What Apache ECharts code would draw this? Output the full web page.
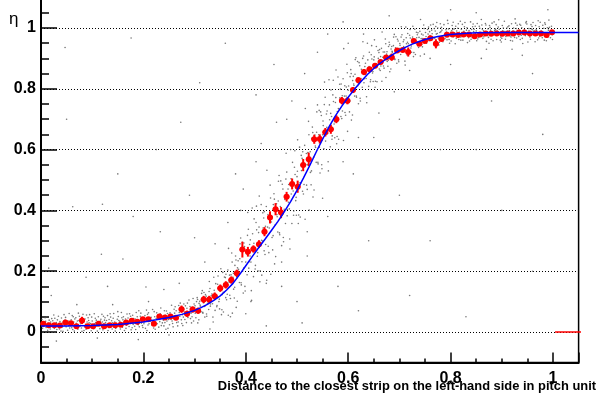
<!DOCTYPE html>
<html><head><meta charset="utf-8">
<script src="https://cdn.jsdelivr.net/npm/echarts@6/dist/echarts.min.js"></script>
<style>html,body{margin:0;padding:0;background:#fff}#c{width:600px;height:409px}</style>
</head><body><div id="c"></div>
<script>
// Profile (red points): bin centres, efficiency, error
const binX = [0.0045,0.0153,0.0261,0.0369,0.0477,0.0585,0.0693,0.0801,0.0909,0.1017,0.1125,0.1233,0.1341,0.1449,0.1557,0.1665,0.1773,0.1881,0.1989,0.2097,0.2205,0.2313,0.2421,0.2529,0.2637,0.2745,0.2853,0.2961,0.3069,0.3177,0.3285,0.3393,0.3501,0.3609,0.3717,0.3825,0.3933,0.4041,0.4149,0.4257,0.4365,0.4473,0.4581,0.4689,0.4797,0.4905,0.5013,0.5121,0.5229,0.5337,0.5445,0.5553,0.5661,0.5769,0.5877,0.5985,0.6093,0.6201,0.6309,0.6417,0.6525,0.6633,0.6741,0.6849,0.6957,0.7065,0.7173,0.7281,0.7389,0.7497,0.7605,0.7713,0.7821,0.7929,0.8037,0.8145,0.8253,0.8361,0.8469,0.8577,0.8685,0.8793,0.8901,0.9009,0.9117,0.9225,0.9333,0.9441,0.9549,0.9657,0.9765,0.9873,0.9981];
const effY = [0.027,0.022,0.022,0.021,0.031,0.029,0.019,0.038,0.019,0.019,0.027,0.019,0.022,0.022,0.024,0.031,0.037,0.034,0.042,0.042,0.027,0.051,0.048,0.051,0.047,0.075,0.060,0.074,0.070,0.107,0.107,0.118,0.144,0.155,0.171,0.193,0.271,0.264,0.273,0.289,0.330,0.377,0.404,0.393,0.445,0.487,0.478,0.549,0.568,0.634,0.635,0.657,0.667,0.700,0.761,0.761,0.796,0.828,0.855,0.864,0.876,0.888,0.903,0.904,0.926,0.928,0.921,0.957,0.948,0.957,0.966,0.948,0.964,0.978,0.979,0.977,0.979,0.979,0.973,0.979,0.982,0.981,0.982,0.981,0.982,0.982,0.985,0.985,0.982,0.982,0.982,0.977,0.986];
const effErr = [0.007,0.007,0.007,0.007,0.007,0.007,0.007,0.012,0.007,0.007,0.007,0.007,0.007,0.007,0.007,0.007,0.007,0.007,0.007,0.007,0.007,0.007,0.007,0.007,0.007,0.012,0.010,0.010,0.010,0.012,0.012,0.012,0.012,0.012,0.012,0.012,0.026,0.016,0.012,0.013,0.015,0.020,0.020,0.018,0.016,0.018,0.020,0.020,0.022,0.015,0.015,0.014,0.015,0.013,0.012,0.012,0.010,0.010,0.010,0.008,0.008,0.008,0.008,0.012,0.007,0.007,0.015,0.006,0.006,0.006,0.006,0.015,0.005,0.005,0.005,0.005,0.005,0.005,0.005,0.005,0.005,0.005,0.005,0.005,0.005,0.005,0.005,0.005,0.005,0.005,0.005,0.008,0.005];
const halfBin = 0.0054;
// Fit curve (blue)
const fitX = [0,0.05,0.10,0.15,0.20,0.225,0.25,0.275,0.30,0.3125,0.325,0.3375,0.35,0.3625,0.375,0.3875,0.40,0.4125,0.425,0.4375,0.45,0.4625,0.475,0.4875,0.50,0.5125,0.525,0.5375,0.55,0.5625,0.575,0.5875,0.60,0.6125,0.625,0.6375,0.65,0.6625,0.675,0.6875,0.70,0.7125,0.725,0.7375,0.75,0.775,0.80,0.825,0.85,0.90,1.05];
const fitY = [0.020,0.020,0.021,0.025,0.033,0.040,0.048,0.058,0.071,0.080,0.091,0.104,0.119,0.138,0.160,0.188,0.218,0.248,0.277,0.305,0.334,0.363,0.395,0.429,0.466,0.506,0.548,0.592,0.634,0.675,0.711,0.743,0.772,0.799,0.824,0.847,0.867,0.884,0.899,0.913,0.926,0.937,0.947,0.955,0.962,0.972,0.979,0.982,0.984,0.985,0.985];
// Empty overflow bins drawn at zero
const overflowX = [1.004,1.078];
const overflowY = [0,0];
// Gray event cloud
const cloudLow = [[0.004,0.018],[0.009,0.035],[0.013,0.006],[0.017,0.028],[0.021,0.044],[0.026,0.012],[0.030,0.031],[0.034,0.052],[0.038,0.020],[0.043,0.002],[0.047,0.039],[0.051,0.025],[0.055,0.061],[0.060,0.014],[0.064,0.033],[0.068,0.047],[0.072,0.009],[0.077,0.027],[0.081,0.040],[0.085,0.017],[0.089,0.056],[0.094,0.030],[0.098,0.004],[0.102,0.022],[0.106,0.045],[0.111,0.034],[0.115,0.011],[0.119,0.058],[0.123,0.026],[0.128,0.038],[0.132,0.015],[0.136,0.049],[0.140,0.030],[0.145,0.003],[0.149,0.042],[0.153,0.021],[0.157,0.064],[0.162,0.033],[0.166,0.012],[0.170,0.046],[0.174,0.027],[0.179,0.055],[0.183,0.019],[0.187,0.038],[0.191,0.070],[0.196,0.029],[0.200,0.045],[0.204,0.012],[0.208,0.058],[0.213,0.035],[0.217,0.023],[0.221,0.067],[0.225,0.044],[0.230,0.016],[0.234,0.079],[0.238,0.052],[0.242,0.031],[0.247,0.061],[0.251,0.024],[0.255,0.088],[0.259,0.046],[0.264,0.070],[0.268,0.033],[0.272,0.095],[0.276,0.057],[0.281,0.041],[0.285,0.078],[0.289,0.105],[0.293,0.062],[0.298,0.036],
[0.002,0.041],[0.007,0.024],[0.011,0.050],[0.015,0.015],[0.019,0.033],[0.024,0.001],[0.028,0.022],[0.032,0.040],[0.036,0.010],[0.041,0.029],[0.045,0.057],[0.049,0.017],[0.053,0.036],[0.058,0.026],[0.062,0.008],[0.066,0.043],[0.070,0.021],[0.075,0.052],[0.079,0.013],[0.083,0.032],[0.087,0.025],[0.092,0.047],[0.096,0.016],[0.100,0.036],[0.104,0.060],[0.109,0.019],[0.113,0.028],[0.117,0.042],[0.121,0.007],[0.126,0.031],[0.130,0.054],[0.134,0.023],[0.138,0.037],[0.143,0.018],[0.147,0.029],[0.151,0.051],[0.155,0.010],[0.160,0.040],[0.164,0.025],[0.168,0.059],[0.172,0.018],[0.177,0.035],[0.181,0.044],[0.185,0.008],[0.189,0.026],[0.194,0.052],[0.198,0.021],[0.202,0.034],[0.206,0.072],[0.211,0.027],[0.215,0.048],[0.219,0.038],[0.223,0.009],[0.228,0.055],[0.232,0.034],[0.236,0.047],[0.240,0.020],[0.245,0.069],[0.249,0.041],[0.253,0.056],[0.257,0.028],[0.262,0.083],[0.266,0.051],[0.270,0.064],[0.274,0.040],[0.279,0.092],[0.283,0.055],[0.287,0.048],[0.291,0.084],[0.296,0.073],
[0.006,0.030],[0.012,0.021],[0.018,0.010],[0.023,0.037],[0.029,0.027],[0.035,0.016],[0.040,0.046],[0.046,0.023],[0.052,0.006],[0.057,0.031],[0.063,0.050],[0.069,0.029],[0.074,0.038],[0.080,0.002],[0.086,0.043],[0.091,0.020],[0.097,0.028],[0.103,0.011],[0.108,0.039],[0.114,0.024],[0.120,0.033],[0.125,0.047],[0.131,0.005],[0.137,0.028],[0.142,0.061],[0.148,0.020],[0.154,0.035],[0.159,0.016],[0.165,0.043],[0.171,0.031],[0.176,0.007],[0.182,0.030],[0.188,0.050],[0.193,0.037],[0.199,0.015],[0.205,0.042],[0.210,0.063],[0.216,0.030],[0.222,0.050],[0.227,0.027],[0.233,0.060],[0.239,0.039],[0.244,0.009],[0.250,0.051],[0.256,0.036],[0.261,0.062],[0.267,0.020],[0.273,0.076],[0.278,0.049],[0.284,0.031],[0.290,0.067],[0.295,0.050],
[0.003,0.012],[0.008,0.047],[0.014,0.029],[0.020,0.019],[0.025,0.056],[0.031,0.008],[0.037,0.034],[0.042,0.017],[0.048,0.048],[0.054,0.021],[0.059,0.040],[0.065,0.003],[0.071,0.036],[0.076,0.019],[0.082,0.058],[0.088,0.009],[0.093,0.038],[0.099,0.049],[0.105,0.027],[0.110,0.003],[0.116,0.036],[0.122,0.052],[0.127,0.017],[0.133,0.041],[0.139,0.010],[0.144,0.033],[0.150,0.067],[0.156,0.026],[0.161,0.050],[0.167,0.022],[0.173,0.060],[0.178,0.014],[0.184,0.043],[0.190,0.024],[0.195,0.062],[0.201,0.027],[0.207,0.005],[0.212,0.046],[0.218,0.074],[0.224,0.032],[0.229,0.043],[0.235,0.021],[0.241,0.070],[0.246,0.036],[0.252,0.063],[0.258,0.017],[0.263,0.045],[0.269,0.087],[0.275,0.028],[0.280,0.066],[0.286,0.095],[0.292,0.044],[0.297,0.110],
[0.001,0.028],[0.010,0.015],[0.016,0.039],[0.022,0.026],[0.027,0.045],[0.033,0.025],[0.039,0.003],[0.044,0.034],[0.050,0.031],[0.056,0.013],[0.061,0.054],[0.067,0.024],[0.073,0.062],[0.078,0.032],[0.084,0.005],[0.090,0.033],[0.095,0.057],[0.101,0.014],[0.107,0.031],[0.112,0.050],[0.118,0.021],[0.124,0.039],[0.129,0.026],[0.135,0.060],[0.141,0.045],[0.146,0.012],[0.152,0.038],[0.158,0.047],[0.163,0.005],[0.169,0.034],[0.175,0.052],[0.180,0.025],[0.186,0.064],[0.192,0.017],[0.197,0.041],[0.203,0.054],[0.209,0.023],[0.214,0.040],[0.220,0.013],[0.226,0.063],[0.231,0.048],[0.237,0.030],[0.243,0.055],[0.248,0.012],[0.254,0.042],[0.260,0.075],[0.265,0.031],[0.271,0.052],[0.277,0.021],[0.282,0.086],[0.288,0.064],[0.294,0.030],[0.299,0.092]];
const cloudMid = [[0.300,0.080],[0.3025,0.047],[0.305,0.113],[0.3075,0.076],[0.310,0.101],[0.3125,0.067],[0.315,0.136],[0.3175,0.096],[0.320,0.049],[0.3225,0.118],[0.325,0.094],[0.3275,0.074],[0.330,0.143],[0.3325,0.119],[0.335,0.093],[0.3375,0.180],[0.340,0.071],[0.3425,0.117],[0.345,0.157],[0.3475,0.100],[0.350,0.143],[0.3525,0.057],[0.355,0.196],[0.3575,0.130],[0.360,0.179],[0.3625,0.106],[0.365,0.204],[0.3675,0.164],[0.370,0.110],[0.3725,0.260],[0.375,0.180],[0.3775,0.112],[0.380,0.250],[0.3825,0.178],[0.385,0.234],[0.3875,0.163],[0.390,0.309],[0.3925,0.231],[0.395,0.128],[0.3975,0.281],[0.400,0.230],[0.4025,0.188],[0.405,0.338],[0.4075,0.288],[0.410,0.230],[0.4125,0.408],[0.415,0.182],[0.4175,0.275],[0.420,0.360],[0.4225,0.249],[0.425,0.327],[0.4275,0.165],[0.430,0.419],[0.4325,0.299],[0.435,0.375],[0.4375,0.255],[0.440,0.413],[0.4425,0.345],[0.445,0.261],[0.4475,0.483],[0.450,0.362],[0.4525,0.270],[0.455,0.455],[0.4575,0.353],[0.460,0.422],[0.4625,0.329],[0.465,0.515],[0.4675,0.413],[0.470,0.284],[0.4725,0.470],[0.475,0.404],[0.4775,0.357],[0.480,0.526],[0.4825,0.470],[0.485,0.405],[0.4875,0.600],[0.490,0.357],[0.4925,0.464],[0.495,0.542],[0.4975,0.432],[0.500,0.511],[0.5025,0.357],[0.505,0.608],[0.5075,0.490],[0.510,0.571],[0.5125,0.454],[0.515,0.614],[0.5175,0.550],[0.520,0.469],[0.5225,0.693],[0.525,0.575],[0.5275,0.484],[0.530,0.674],[0.5325,0.575],[0.535,0.648],[0.5375,0.558],[0.540,0.747],[0.5425,0.649],[0.545,0.523],[0.5475,0.712],[0.550,0.649],[0.5525,0.603],[0.555,0.772],[0.5575,0.717],[0.560,0.653],[0.5625,0.830],[0.565,0.609],[0.5675,0.709],[0.570,0.780],[0.5725,0.684],[0.575,0.755],[0.5775,0.619],[0.580,0.839],[0.5825,0.733],[0.585,0.799],[0.5875,0.702],[0.590,0.833],[0.5925,0.776],[0.595,0.713],[0.5975,0.881],[0.600,0.795],[0.6025,0.724],[0.605,0.863],[0.6075,0.790],[0.610,0.841],[0.6125,0.776],[0.615,0.902],[0.6175,0.835],[0.620,0.751],[0.6225,0.876],[0.625,0.834],[0.6275,0.805],[0.630,0.908],[0.6325,0.873],[0.635,0.834],[0.6375,0.950],[0.640,0.808],[0.6425,0.868],[0.645,0.912],[0.6475,0.852],[0.650,0.895],[0.6525,0.805],[0.655,0.939],[0.6575,0.880],[0.660,0.919],[0.6625,0.860],[0.665,0.933],[0.6675,0.904],[0.670,0.868],[0.6725,0.964],[0.675,0.914],[0.6775,0.874],[0.680,0.953],[0.6825,0.910],[0.685,0.939],[0.6875,0.899],[0.690,0.979],[0.6925,0.935],[0.695,0.884],[0.6975,0.957],[0.700,0.932],[0.7025,0.913],[0.705,0.978],[0.7075,0.955],[0.710,0.929],[0.7125,1.003],[0.715,0.911],[0.7175,0.948],[0.720,0.976],[0.7225,0.934],[0.725,0.964],[0.7275,0.906],[0.730,0.996],[0.7325,0.953],[0.735,0.978],[0.7375,0.936],[0.740,0.989],[0.7425,0.965],[0.745,0.938],[0.7475,1.010],
[0.30125,0.062],[0.30375,0.100],[0.30625,0.030],[0.30875,0.094],[0.31125,0.085],[0.31375,0.127],[0.31625,0.062],[0.31875,0.084],[0.32125,0.123],[0.32375,0.052],[0.32625,0.104],[0.32875,0.166],[0.33125,0.092],[0.33375,0.125],[0.33625,0.033],[0.33875,0.113],[0.34125,0.159],[0.34375,0.087],[0.34625,0.144],[0.34875,0.076],[0.35125,0.208],[0.35375,0.123],[0.35625,0.066],[0.35875,0.151],[0.36125,0.190],[0.36375,0.124],[0.36625,0.275],[0.36875,0.121],[0.37125,0.188],[0.37375,0.062],[0.37625,0.141],[0.37875,0.219],[0.38125,0.081],[0.38375,0.211],[0.38625,0.199],[0.38875,0.290],[0.39125,0.155],[0.39375,0.200],[0.39625,0.293],[0.39875,0.135],[0.40125,0.257],[0.40375,0.393],[0.40625,0.231],[0.40875,0.303],[0.41125,0.104],[0.41375,0.275],[0.41625,0.372],[0.41875,0.219],[0.42125,0.336],[0.42375,0.201],[0.42625,0.447],[0.42875,0.293],[0.43125,0.187],[0.43375,0.342],[0.43625,0.396],[0.43875,0.288],[0.44125,0.532],[0.44375,0.282],[0.44625,0.382],[0.44875,0.190],[0.45125,0.311],[0.45375,0.419],[0.45625,0.224],[0.45875,0.405],[0.46125,0.379],[0.46375,0.496],[0.46625,0.320],[0.46875,0.376],[0.47125,0.486],[0.47375,0.297],[0.47625,0.436],[0.47875,0.588],[0.48125,0.403],[0.48375,0.485],[0.48625,0.273],[0.48875,0.454],[0.49125,0.558],[0.49375,0.398],[0.49625,0.518],[0.49875,0.384],[0.50125,0.632],[0.50375,0.479],[0.50625,0.378],[0.50875,0.531],[0.51125,0.593],[0.51375,0.485],[0.51625,0.735],[0.51875,0.483],[0.52125,0.590],[0.52375,0.401],[0.52625,0.525],[0.52875,0.637],[0.53125,0.444],[0.53375,0.625],[0.53625,0.607],[0.53875,0.724],[0.54125,0.553],[0.54375,0.608],[0.54625,0.724],[0.54875,0.537],[0.55125,0.679],[0.55375,0.822],[0.55625,0.649],[0.55875,0.727],[0.56125,0.530],[0.56375,0.698],[0.56625,0.796],[0.56875,0.645],[0.57125,0.758],[0.57375,0.639],[0.57625,0.862],[0.57875,0.725],[0.58125,0.634],[0.58375,0.770],[0.58625,0.816],[0.58875,0.727],[0.59125,0.932],[0.59375,0.722],[0.59625,0.806],[0.59875,0.660],[0.60125,0.755],[0.60375,0.840],[0.60625,0.697],[0.60875,0.827],[0.61125,0.811],[0.61375,0.896],[0.61625,0.772],[0.61875,0.810],[0.62125,0.886],[0.62375,0.760],[0.62625,0.855],[0.62875,0.955],[0.63125,0.833],[0.63375,0.884],[0.63625,0.754],[0.63875,0.863],[0.64125,0.920],[0.64375,0.830],[0.64625,0.898],[0.64875,0.824],[0.65125,0.961],[0.65375,0.876],[0.65625,0.823],[0.65875,0.900],[0.66125,0.929],[0.66375,0.875],[0.66625,0.987],[0.66875,0.875],[0.67125,0.921],[0.67375,0.837],[0.67625,0.890],[0.67875,0.939],[0.68125,0.856],[0.68375,0.931],[0.68625,0.920],[0.68875,0.970],[0.69125,0.896],[0.69375,0.920],[0.69625,0.963],[0.69875,0.889],[0.70125,0.943],[0.70375,1.004],[0.70625,0.930],[0.70875,0.961],[0.71125,0.878],[0.71375,0.948],[0.71625,0.982],[0.71875,0.925],[0.72125,0.967],[0.72375,0.920],[0.72625,1.006],[0.72875,0.952],[0.73125,0.913],[0.73375,0.968],[0.73625,0.984],[0.73875,0.949],[0.74125,1.028],[0.74375,0.946],[0.74625,0.977],[0.74875,0.914],
[0.3008,0.086],[0.3033,0.065],[0.3058,0.107],[0.3083,0.040],[0.3108,0.089],[0.3133,0.105],[0.3158,0.065],[0.3183,0.130],[0.3208,0.086],[0.3233,0.059],[0.3258,0.112],[0.3283,0.133],[0.3308,0.085],[0.3333,0.103],[0.3358,0.049],[0.3383,0.137],[0.3408,0.123],[0.3433,0.083],[0.3458,0.184],[0.3483,0.108],[0.3508,0.153],[0.3533,0.073],[0.3558,0.131],[0.3583,0.181],[0.3608,0.113],[0.3633,0.163],[0.3658,0.055],[0.3683,0.187],[0.3708,0.164],[0.3733,0.230],[0.3758,0.193],[0.3783,0.147],[0.3808,0.237],[0.3833,0.101],[0.3858,0.206],[0.3883,0.241],[0.3908,0.162],[0.3933,0.295],[0.3958,0.210],[0.3983,0.150],[0.4008,0.270],[0.4033,0.318],[0.4058,0.210],[0.4083,0.250],[0.4108,0.136],[0.4133,0.323],[0.4158,0.292],[0.4183,0.207],[0.4208,0.414],[0.4233,0.261],[0.4258,0.345],[0.4283,0.201],[0.4308,0.302],[0.4333,0.392],[0.4358,0.267],[0.4383,0.348],[0.4408,0.170],[0.4433,0.386],[0.4458,0.342],[0.4483,0.441],[0.4508,0.380],[0.4533,0.317],[0.4558,0.437],[0.4583,0.248],[0.4608,0.386],[0.4633,0.431],[0.4658,0.326],[0.4683,0.497],[0.4708,0.383],[0.4733,0.311],[0.4758,0.449],[0.4783,0.503],[0.4808,0.382],[0.4833,0.427],[0.4858,0.306],[0.4883,0.504],[0.4908,0.474],[0.4933,0.384],[0.4958,0.596],[0.4983,0.443],[0.5008,0.529],[0.5033,0.385],[0.5058,0.491],[0.5083,0.581],[0.5108,0.463],[0.5133,0.544],[0.5158,0.371],[0.5183,0.587],[0.5208,0.550],[0.5233,0.649],[0.5258,0.593],[0.5283,0.530],[0.5308,0.656],[0.5333,0.467],[0.5358,0.612],[0.5383,0.657],[0.5408,0.558],[0.5433,0.729],[0.5458,0.622],[0.5483,0.550],[0.5508,0.694],[0.5533,0.748],[0.5558,0.628],[0.5583,0.673],[0.5608,0.560],[0.5633,0.747],[0.5658,0.719],[0.5683,0.634],[0.5708,0.828],[0.5733,0.692],[0.5758,0.771],[0.5783,0.643],[0.5808,0.735],[0.5833,0.815],[0.5858,0.709],[0.5883,0.777],[0.5908,0.630],[0.5933,0.810],[0.5958,0.776],[0.5983,0.853],[0.6008,0.809],[0.6033,0.760],[0.6058,0.850],[0.6083,0.714],[0.6108,0.816],[0.6133,0.848],[0.6158,0.776],[0.6183,0.890],[0.6208,0.817],[0.6233,0.769],[0.6258,0.864],[0.6283,0.900],[0.6308,0.820],[0.6333,0.847],[0.6358,0.774],[0.6383,0.895],[0.6408,0.873],[0.6433,0.823],[0.6458,0.942],[0.6483,0.857],[0.6508,0.905],[0.6533,0.825],[0.6558,0.881],[0.6583,0.926],[0.6608,0.865],[0.6633,0.906],[0.6658,0.825],[0.6683,0.921],[0.6708,0.904],[0.6733,0.948],[0.6758,0.922],[0.6783,0.894],[0.6808,0.945],[0.6833,0.865],[0.6858,0.923],[0.6883,0.942],[0.6908,0.899],[0.6933,0.971],[0.6958,0.923],[0.6983,0.895],[0.7008,0.949],[0.7033,0.970],[0.7058,0.922],[0.7083,0.939],[0.7108,0.891],[0.7133,0.968],[0.7158,0.953],[0.7183,0.921],[0.7208,0.995],[0.7233,0.941],[0.7258,0.970],[0.7283,0.919],[0.7308,0.954],[0.7333,0.986],[0.7358,0.942],[0.7383,0.969],[0.7408,0.908],[0.7433,0.980],[0.7458,0.965],[0.7483,0.998]];
const cloudHigh = [[0.752,0.972],[0.755,0.995],[0.758,0.958],[0.761,1.010],[0.764,0.981],[0.767,0.946],[0.770,0.990],[0.773,1.018],[0.776,0.967],[0.779,0.985],[0.782,1.002],[0.785,0.955],[0.788,0.978],[0.791,0.994],[0.794,1.025],[0.797,0.962],[0.800,0.986],[0.803,1.008],[0.806,0.971],[0.809,0.948],[0.812,0.990],[0.815,1.014],[0.818,0.977],[0.821,0.996],[0.824,0.960],[0.827,1.004],[0.830,0.983],[0.833,0.952],[0.836,0.992],[0.839,1.020],[0.842,0.970],[0.845,0.988],[0.848,1.006],[0.851,0.958],[0.854,0.980],[0.857,0.999],[0.860,1.028],[0.863,0.966],[0.866,0.987],[0.869,1.010],[0.872,0.975],[0.875,0.950],[0.878,0.993],[0.881,1.016],[0.884,0.979],[0.887,0.997],[0.890,0.962],[0.893,1.003],[0.896,0.984],[0.899,0.954],[0.902,0.991],[0.905,1.022],[0.908,0.972],[0.911,0.989],[0.914,1.007],[0.917,0.959],[0.920,0.981],[0.923,1.000],[0.926,1.030],[0.929,0.967],[0.932,0.986],[0.935,1.012],[0.938,0.976],[0.941,0.949],[0.944,0.994],[0.947,1.017],[0.950,0.980],[0.953,0.998],[0.956,0.963],[0.959,1.005],[0.962,0.985],[0.965,0.955],[0.968,0.992],[0.971,1.024],[0.974,0.973],[0.977,0.990],[0.980,1.009],[0.983,0.960],[0.986,0.982],[0.989,1.001],[0.992,1.026],[0.995,0.968],[0.998,0.988],
[0.751,0.985],[0.754,0.962],[0.757,1.003],[0.760,0.975],[0.763,0.993],[0.766,1.012],[0.769,0.966],[0.772,0.980],[0.775,1.000],[0.778,0.953],[0.781,0.988],[0.784,0.972],[0.787,1.011],[0.790,0.983],[0.793,0.961],[0.796,0.997],[0.799,0.975],[0.802,0.991],[0.805,1.019],[0.808,0.983],[0.811,0.966],[0.814,0.999],[0.817,0.986],[0.820,0.970],[0.823,1.012],[0.826,0.989],[0.829,0.975],[0.832,1.001],[0.835,0.968],[0.838,0.984],[0.841,0.995],[0.844,1.013],[0.847,0.977],[0.850,0.990],[0.853,0.964],[0.856,1.006],[0.859,0.982],[0.862,0.996],[0.865,0.971],[0.868,1.015],[0.871,0.987],[0.874,0.969],[0.877,1.002],[0.880,0.984],[0.883,0.958],[0.886,0.992],[0.889,1.011],[0.892,0.978],[0.895,0.996],[0.898,0.970],[0.901,1.008],[0.904,0.983],[0.907,0.963],[0.910,1.000],[0.913,0.987],[0.916,0.974],[0.919,1.014],[0.922,0.990],[0.925,0.969],[0.928,0.998],[0.931,0.979],[0.934,0.993],[0.937,1.009],[0.940,0.966],[0.943,0.986],[0.946,0.975],[0.949,1.013],[0.952,0.989],[0.955,0.970],[0.958,0.997],[0.961,1.018],[0.964,0.978],[0.967,0.994],[0.970,0.961],[0.973,1.004],[0.976,0.983],[0.979,0.968],[0.982,0.999],[0.985,1.012],[0.988,0.974],[0.991,0.993],[0.994,0.980],[0.997,1.006],[0.999,0.962],
[0.753,0.950],[0.759,0.988],[0.765,0.970],[0.771,1.005],[0.777,0.944],[0.783,0.993],[0.789,0.965],[0.795,1.015],[0.801,0.957],[0.807,0.997],[0.813,0.980],[0.819,1.022],[0.825,0.974],[0.831,0.993],[0.837,0.957],[0.843,1.004],[0.849,0.982],[0.855,0.969],[0.861,1.010],[0.867,0.976],[0.873,0.997],[0.879,0.963],[0.885,1.020],[0.891,0.990],[0.897,0.960],[0.903,1.000],[0.909,0.981],[0.915,0.992],[0.921,0.957],[0.927,1.016],[0.933,0.972],[0.939,1.001],[0.945,0.984],[0.951,0.954],[0.957,1.011],[0.963,0.991],[0.969,0.977],[0.975,1.019],[0.981,0.985],[0.987,0.958],[0.993,1.002],[0.9985,0.978],
[0.756,0.980],[0.762,0.965],[0.768,0.998],[0.774,0.982],[0.780,1.014],[0.786,0.969],[0.792,0.987],[0.798,0.950],[0.804,0.995],[0.810,1.006],[0.816,0.962],[0.822,0.985],[0.828,1.018],[0.834,0.980],[0.840,0.963],[0.846,0.996],[0.852,1.015],[0.858,0.973],[0.864,0.991],[0.870,0.956],[0.876,1.008],[0.882,0.977],[0.888,0.994],[0.894,1.027],[0.900,0.966],[0.906,0.988],[0.912,1.004],[0.918,0.970],[0.924,0.984],[0.930,1.009],[0.936,0.962],[0.942,0.990],[0.948,1.021],[0.954,0.975],[0.960,0.994],[0.966,1.008],[0.972,0.967],[0.978,0.985],[0.984,1.017],[0.990,0.970],[0.996,0.991]];
const cloudSparse = [[0.047,0.936],[0.176,0.967],[0.273,0.690],[0.062,0.412],[0.118,0.256],[0.205,0.148],[0.150,0.520],[0.310,0.820],[0.088,0.180],[0.233,0.330],[0.345,0.600],[0.020,0.120],[0.140,0.090],[0.260,0.200],[0.290,0.450],[0.380,0.520],[0.420,0.780],[0.455,0.880],[0.360,0.950],[0.030,-0.030],[0.110,-0.020],[0.190,-0.025],[0.250,-0.010],[0.330,0.010],[0.400,0.060],[0.470,0.150],[0.520,0.250],[0.560,0.380],[0.610,0.520],[0.650,0.640],[0.700,0.700],[0.740,0.820],[0.800,0.880],[0.860,0.900],[0.920,0.930],[0.960,0.850],[0.880,0.760],[0.780,0.600],[0.700,0.450],[0.640,0.300],[0.580,0.150],[0.500,0.100],[0.440,0.020],[0.900,0.400],[0.960,0.200],[0.830,0.050],[0.720,0.120],[0.620,0.070],[0.980,0.650],[0.540,0.920],[0.480,0.700],[0.420,0.560],[0.225,0.600],[0.300,0.310],[0.390,0.400],[0.600,0.950],[0.680,1.040],[0.850,1.050],[0.510,0.030],[0.160,0.240],
[0.015,0.210],[0.070,0.090],[0.130,0.150],[0.180,0.380],[0.210,0.100],[0.240,0.140],[0.270,0.160],[0.320,0.230],[0.340,0.290],[0.365,0.360],[0.395,0.470],[0.430,0.620],[0.460,0.690],[0.490,0.760],[0.515,0.850],[0.560,0.980],[0.590,1.020],[0.630,0.980],[0.520,0.330],[0.550,0.440],[0.590,0.560],[0.620,0.640],[0.660,0.720],[0.690,0.790],[0.720,0.860],[0.760,0.900],[0.470,0.230],[0.440,0.160],[0.410,0.100],[0.370,0.050],[0.820,0.960],[0.870,0.930],[0.940,0.910],[0.990,1.060],[0.800,1.060],[0.650,0.400],[0.760,0.300],[0.850,0.600],[0.120,0.420],[0.050,0.700]];

const xTitle = 'Distance to the closest strip on the left-hand side in pitch unit';
const yTitle = 'η';

const FONT = '"Liberation Sans", Arial, Helvetica, sans-serif';
const chart = echarts.init(document.getElementById('c'), null, {renderer:'canvas'});
const profile = binX.map((x,i)=>[x, effY[i], effErr[i]]);
const fit = fitX.map((x,i)=>[x, fitY[i]]);
const overflow = overflowX.map((x,i)=>[x, overflowY[i]]);
const cloud = cloudLow.concat(cloudMid, cloudHigh, cloudSparse);
const fmt = v => (v < -0.001 || v > 1.001) ? '' : String(Math.round(v*10)/10);

chart.setOption({
  animation:false,
  backgroundColor:'#fff',
  grid:{left:41, right:21.4, top:-2.4, bottom:46.6, show:true, borderColor:'#000', borderWidth:1.5, containLabel:false, outerBoundsMode:'none'},
  xAxis:{type:'value', min:0, max:1.05, interval:0.2,
    axisLine:{onZero:false, lineStyle:{color:'#000', width:2}},
    axisTick:{inside:true, length:10, lineStyle:{color:'#000', width:1.5}},
    minorTick:{show:true, splitNumber:4, length:4, lineStyle:{color:'#000', width:1.5}},
    axisLabel:{color:'#000', fontFamily:FONT, fontWeight:'bold', fontSize:16, margin:8, formatter:fmt},
    splitLine:{show:false}},
  yAxis:{type:'value', min:-0.1, max:1.1, splitNumber:6,
    axisLine:{onZero:false, lineStyle:{color:'#000', width:2}},
    axisTick:{inside:true, length:16, lineStyle:{color:'#000', width:1.5}},
    minorTick:{show:true, splitNumber:4, length:8, lineStyle:{color:'#000', width:1.5}},
    axisLabel:{color:'#000', fontFamily:FONT, fontWeight:'bold', fontSize:16, margin:5, formatter:fmt},
    splitLine:{show:true, lineStyle:{color:'#000', width:1, type:[1,2]}}},
  graphic:[
    {type:'text', left:9, top:11, style:{text:yTitle, font:'17px '+FONT, fill:'#000'}},
    {type:'text', right:4, top:380, style:{text:xTitle, font:'bold 12.9px '+FONT, fill:'#000'}}
  ],
  series:[
    {type:'scatter', data:cloud, symbol:'circle', symbolSize:1.6, itemStyle:{color:'#555'}, silent:true, z:1},
    {type:'custom', data:profile, z:3, renderItem:(params, api)=>{
      const x=api.value(0), y=api.value(1), e=api.value(2);
      const c=api.coord([x,y]), t=api.coord([x,y+e]), b=api.coord([x,y-e]);
      const l=api.coord([x-halfBin,y]), r=api.coord([x+halfBin,y]);
      return {type:'group', children:[
        {type:'line', shape:{x1:c[0],y1:t[1],x2:c[0],y2:b[1]}, style:{stroke:'#ff0000', lineWidth:2}},
        {type:'line', shape:{x1:l[0],y1:c[1],x2:r[0],y2:c[1]}, style:{stroke:'#ff0000', lineWidth:2}},
        {type:'circle', shape:{cx:c[0],cy:c[1],r:3}, style:{fill:'#ff0000'}}
      ]};
    }},
    {type:'line', data:fit, showSymbol:false, smooth:false, lineStyle:{color:'#0000ff', width:1.5}, z:4, silent:true},
    {type:'line', data:overflow, showSymbol:false, clip:false, lineStyle:{color:'#ff0000', width:1.5}, z:3, silent:true}
  ]
});
</script></body></html>
